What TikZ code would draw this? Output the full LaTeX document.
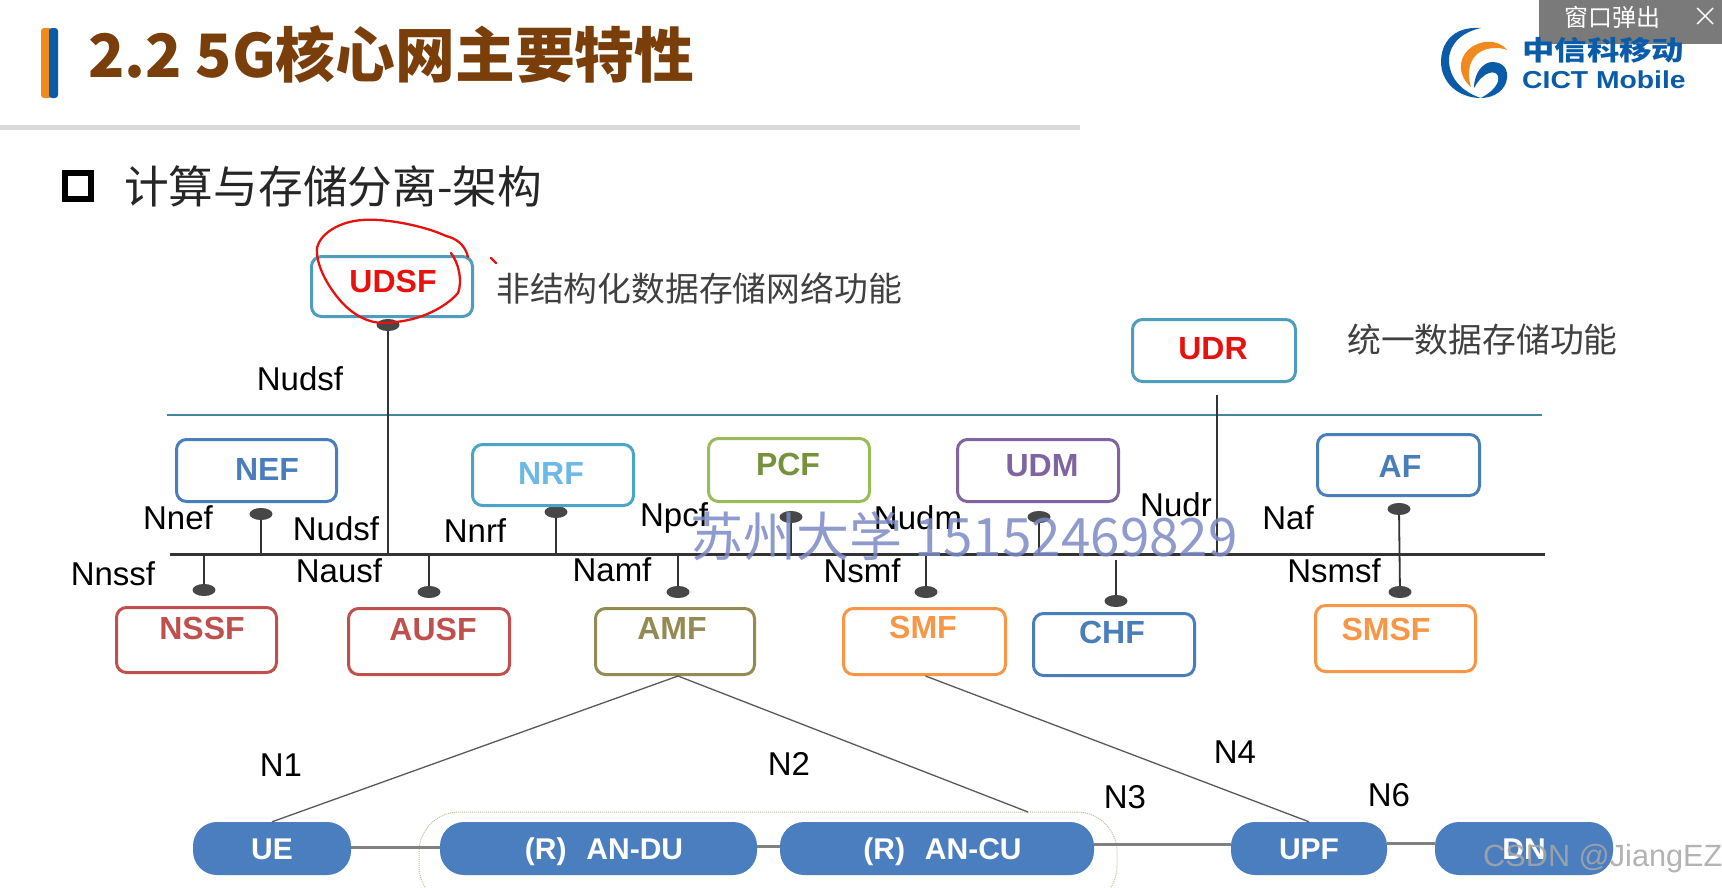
\documentclass[tikz,border=0pt]{standalone}
\usepackage{fontspec}
\setmainfont{Liberation Sans}
\newfontfamily\cjk{Noto Sans CJK SC}
\usetikzlibrary{shapes.geometric}
\definecolor{cteal}{HTML}{4F9DBE}
\definecolor{cblue}{HTML}{4A7EBB}
\definecolor{cnrf}{HTML}{4BA6C6}
\definecolor{cnrft}{HTML}{6CB8E6}
\definecolor{cgreen}{HTML}{9BBB59}
\definecolor{cgreent}{HTML}{76923C}
\definecolor{cpurple}{HTML}{8064A2}
\definecolor{cred}{HTML}{C0504D}
\definecolor{colive}{HTML}{948A54}
\definecolor{corange}{HTML}{F79646}
\definecolor{cpill}{HTML}{4A7EBF}
\definecolor{cbrown}{HTML}{7A3E0B}
\definecolor{clogo}{HTML}{0A5CA8}
\definecolor{clogoo}{HTML}{F08A1D}
\definecolor{cwater}{HTML}{7B8AC4}
\definecolor{cink}{HTML}{E5120E}
\newcommand{\nfbox}[9]{%
  \node[nfrect,draw=#5,minimum width=#3,minimum height=#4] (#1) at (#2) {};
  \node[nflabel,text=#6] (#1t) at (#7,#8) {#9};}
\tikzset{
  nfrect/.style={rectangle,rounded corners=10pt,line width=3pt,inner sep=0pt,fill=white},
  nflabel/.style={font=\fontsize{32}{36}\selectfont\bfseries,inner sep=0pt},
  iface/.style={font=\fontsize{33}{38}\selectfont,text=black,inner sep=0pt},
  pill/.style={rectangle,rounded corners=24pt,fill=cpill,minimum height=53pt,inner sep=0pt,
    text=white,text height=21.5pt,text depth=0pt,font=\fontsize{30}{34}\selectfont\bfseries},
  pin/.style={ellipse,fill=black!72,minimum width=23pt,minimum height=12pt,inner sep=0pt},
  stem/.style={line width=1.8pt,draw=black!80},
  busline/.style={line width=3pt,draw=black!80},
  link/.style={line width=1.3pt,draw=black!65},
  pipe/.style={line width=2.4pt,draw=black!50},
  zh/.style={font=\cjk\fontsize{33.8}{38}\selectfont,text=black!75,inner sep=0pt},
}
\begin{document}
\begin{tikzpicture}[x=1pt,y=-1pt]
\clip (0,0) rectangle (1722,887);
\fill[white] (0,0) rectangle (1722,887);
% title band
\fill[rounded corners=3pt,clogoo] (41,28) rectangle (52,98);
\fill[rounded corners=3pt,clogo] (49,28) rectangle (58,98);
\node[anchor=west,inner sep=0pt,text=cbrown,font=\cjk\bfseries\fontsize{59.8}{64}\selectfont] (title) at (88,55) {2.2 5G核心网主要特性};
\fill[black!15] (0,125) rectangle (1080,130);
\node[draw=black,line width=6pt,minimum width=26pt,minimum height=26pt,inner sep=0pt] (chk) at (78,185.5) {};
\node[anchor=west,inner sep=0pt,text=black!85,font=\cjk\fontsize{44.7}{50}\selectfont] (sub) at (124,186) {计算与存储分离-架构};
% popup
\fill[black!52] (1539,0) rectangle (1722,44);
\node[anchor=west,inner sep=0pt,text=white,font=\cjk\fontsize{24}{28}\selectfont] (popup) at (1564,17) {窗口弹出};
\draw[white,line width=1.4pt] (1697,8) -- (1713,24) (1713,8) -- (1697,24);
% logo
\fill[clogo] (1481,28) .. controls (1452,26) and (1441,44) .. (1441,62) .. controls (1441,82) and (1458,98) .. (1481,98) .. controls (1462,92) and (1449,78) .. (1449,60) .. controls (1449,44) and (1462,32) .. (1481,28) -- cycle;
\fill[clogoo] (1507,50) .. controls (1498,38) and (1478,40) .. (1468,50) .. controls (1458,60) and (1458,76) .. (1471,87) .. controls (1466,72) and (1470,58) .. (1480,52) .. controls (1488,47) and (1500,47) .. (1507,50) -- cycle;
\fill[clogo] (1474,88) .. controls (1474,72) and (1484,62) .. (1492,62) .. controls (1504,62) and (1508,70) .. (1507,78) .. controls (1506,90) and (1494,98) .. (1481,98) .. controls (1492,92) and (1500,84) .. (1498,76) .. controls (1496,70) and (1484,70) .. (1474,88) -- cycle;
\node[anchor=west,inner sep=0pt,text=clogo,font=\cjk\bfseries\fontsize{27}{30}\selectfont] (logozh) at (1522,50) {\scalebox{1.2}[1]{中信科移动}};
\node[anchor=west,inner sep=0pt,text=clogo,font=\bfseries\fontsize{24.5}{28}\selectfont] (logoen) at (1522,80) {\scalebox{1.155}[1]{CICT Mobile}};
% separators
\coordinate (blueL) at (167,415);
\coordinate (blueR) at (1542,415);
\coordinate (busL) at (170,554.5);
\coordinate (busR) at (1545,554.5);
\draw[line width=1.6pt,draw=cteal!85!black] (blueL) -- (blueR);
\draw[busline] (busL) -- (busR);
% pins
\node[pin] (pudsf) at (388,325) {};
\node[pin] (pnef) at (261,514) {};
\node[pin] (pnrf) at (556,512) {};
\node[pin] (ppcf) at (791,517) {};
\node[pin] (pudm) at (1039,517) {};
\node[pin] (paf) at (1399,509) {};
\node[pin] (pnssf) at (204,590) {};
\node[pin] (pausf) at (429,592) {};
\node[pin] (pamf) at (678,592) {};
\node[pin] (psmf) at (926,592) {};
\node[pin] (pchf) at (1116,601) {};
\node[pin] (psmsf) at (1400,592) {};
\coordinate (udrtop) at (1217,395);
\coordinate (chftop) at (1116,560);
\draw[stem] (pudsf) -- (pudsf |- busL);
\draw[stem] (pnef) -- (pnef |- busL);
\draw[stem] (pnrf) -- (pnrf |- busL);
\draw[stem] (ppcf) -- (ppcf |- busL);
\draw[stem] (pudm) -- (pudm |- busL);
\draw[stem] (udrtop) -- (udrtop |- busL);
\draw[stem] (paf) -- (psmsf);
\draw[stem] (pnssf) -- (pnssf |- busL);
\draw[stem] (pausf) -- (pausf |- busL);
\draw[stem] (pamf) -- (pamf |- busL);
\draw[stem] (psmf) -- (psmf |- busL);
\draw[stem] (pchf) -- (chftop);
% boxes
\nfbox{udsf}{392,286.5}{161pt}{60pt}{cteal}{cink}{393}{281}{UDSF}
\nfbox{udr}{1214,350.5}{163pt}{62pt}{cteal}{cink}{1213}{349}{UDR}
\nfbox{nef}{256.5,470.5}{160pt}{62pt}{cblue}{cblue}{267}{469}{NEF}
\nfbox{nrf}{553,475}{161pt}{61pt}{cnrf}{cnrft}{551}{473}{NRF}
\nfbox{pcf}{789,470}{161pt}{63pt}{cgreen}{cgreent}{788}{464}{PCF}
\nfbox{udm}{1038,470.5}{161pt}{62pt}{cpurple}{cpurple}{1042}{466}{UDM}
\nfbox{af}{1398.5,465}{162pt}{61pt}{cblue}{cblue}{1400}{466}{AF}
\nfbox{nssf}{196.5,640}{160pt}{65pt}{cred}{cred}{202}{628}{NSSF}
\nfbox{ausf}{429,641.5}{161pt}{66pt}{cred}{cred}{433}{629}{AUSF}
\nfbox{amf}{675,641.5}{159pt}{66pt}{colive}{colive}{672}{628}{AMF}
\nfbox{smf}{924.5,641.5}{162pt}{66pt}{corange}{corange}{923}{627}{SMF}
\nfbox{chf}{1114,644.5}{161pt}{62pt}{cblue}{cblue}{1112}{632}{CHF}
\nfbox{smsf}{1395.5,638.5}{160pt}{66pt}{corange}{corange}{1386}{629}{SMSF}
% interface labels
\node[iface] (l1) at (300,379) {Nudsf};
\node[iface] (l2) at (178,518) {Nnef};
\node[iface] (l3) at (336,529) {Nudsf};
\node[iface] (l4) at (475,531) {Nnrf};
\node[iface] (l5) at (674,518) {Npcf};
\node[iface] (l6) at (918,518) {Nudm};
\node[iface] (l7) at (1176,505) {Nudr};
\node[iface] (l8) at (1288,518) {Naf};
\node[iface] (l9) at (113,574) {Nnssf};
\node[iface] (l10) at (339,571) {Nausf};
\node[iface] (l11) at (612,570) {Namf};
\node[iface] (l12) at (862,571) {Nsmf};
\node[iface] (l13) at (1334,571) {Nsmsf};
\node[iface] (n1) at (281,765) {N1};
\node[iface] (n2) at (789,764) {N2};
\node[iface] (n3) at (1125,797) {N3};
\node[iface] (n4) at (1235,752) {N4};
\node[iface] (n6) at (1389,795) {N6};
% radio layer
\node[rectangle,rounded corners=40pt,draw=colive!55,densely dotted,line width=1pt,minimum width=698pt,minimum height=94pt,inner sep=0pt] (ran) at (768,859) {};
\node[pill,minimum width=158pt] (ue) at (272,848.5) {UE};
\node[pill,minimum width=317pt] (du) at (598.5,848.5) {\hspace{11pt}(R)\hspace{20pt}AN-DU};
\node[pill,minimum width=314pt] (cu) at (937,848.5) {\hspace{11pt}(R)\hspace{20pt}AN-CU};
\node[pill,minimum width=156pt] (upf) at (1309,848.5) {UPF};
\node[pill,minimum width=178pt] (dn) at (1524,848.5) {DN};
\coordinate (n2end) at (1028,812);
\draw[link] ([xshift=3pt]amf.south) -- (ue.north);
\draw[link] ([xshift=3pt]amf.south) -- (n2end);
\draw[link] ([xshift=1pt]smf.south) -- (upf.north);
\draw[pipe] ([yshift=1pt]ue.east) -- ([yshift=1pt]du.west);
\draw[pipe] ([yshift=2pt]du.east) -- ([yshift=2pt]cu.west);
\draw[pipe] ([yshift=4pt]cu.east) -- ([yshift=4pt]upf.west);
\draw[pipe] ([yshift=5pt]upf.east) -- ([yshift=5pt]dn.west);
% captions
\node[zh,anchor=west] (cap1) at (496,288) {非结构化数据存储网络功能};
\node[zh,anchor=west] (cap2) at (1347,340) {统一数据存储功能};
% hand-drawn ring
\draw[cink,line width=2.3pt,line cap=round,line join=round]
  (468,257) .. controls (465,244) and (455,238) .. (446,236)
  .. controls (425,226) and (385,218) .. (362,220)
  .. controls (335,222) and (315,238) .. (317,253)
  .. controls (318,272) and (335,298) .. (350,310)
  .. controls (365,322) and (380,325) .. (395,322)
  .. controls (420,320) and (445,308) .. (458,293)
  .. controls (463,280) and (458,262) .. (451,253);
\draw[cink,line width=2.3pt,line cap=round] (491,258) -- (496,263);
% overlays
\node[anchor=center,inner sep=0pt,text=cwater,text opacity=.85,font=\cjk\fontsize{53}{58}\selectfont] (wm) at (964,536) {苏州大学 15152469829};
\node[anchor=west,inner sep=0pt,text=black!35,text opacity=.85,font=\fontsize{30.7}{36}\selectfont] (csdn) at (1483,859) {CSDN @JiangEZ};
\end{tikzpicture}
\end{document}
